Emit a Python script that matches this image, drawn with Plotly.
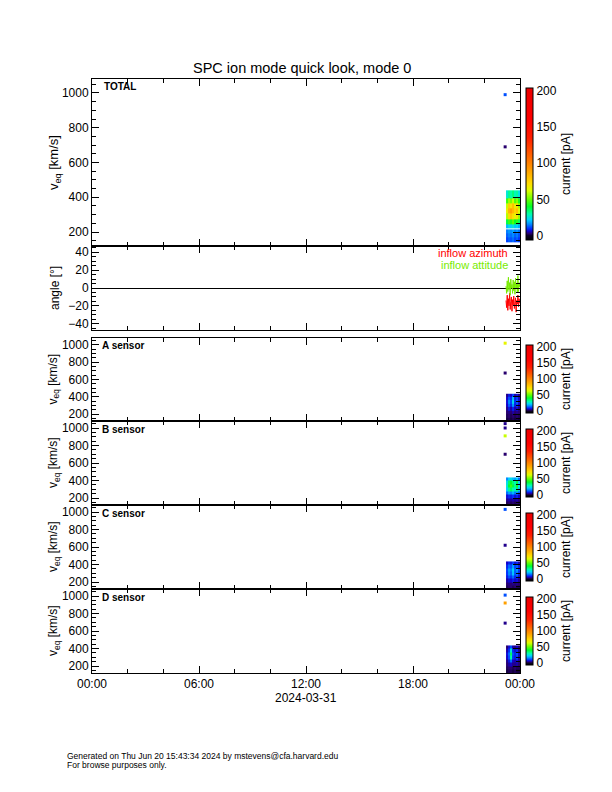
import plotly.graph_objects as go

# ---- data ----
day_range = ["2024-03-31 00:00", "2024-04-01 00:00"]

# time bin edges of the spectrogram columns (end of the day only)
time_edges = ["2024-03-31 23:13", "2024-03-31 23:20", "2024-03-31 23:27",
              "2024-03-31 23:33", "2024-03-31 23:40", "2024-03-31 23:47",
              "2024-03-31 23:53", "2024-04-01 00:00"]

# TOTAL panel: velocity bin edges (km/s) and currents (pA), rows bottom -> top
total_v_edges = [140, 170, 195, 215, 222, 245, 275, 305, 335, 365, 395, 440]
total_current = [
    [11, 13, 12, 14, 11, 13, 10],
    [13, 15, 14, 16, 13, 15, 12],
    [15, 17, 16, 18, 15, 17, 14],
    [None, None, None, None, None, None, None],
    [20, 24, 22, 26, 21, 23, 19],
    [38, 46, 42, 48, 40, 44, 36],
    [58, 72, 78, 70, 64, 70, 55],
    [66, 84, 90, 82, 74, 80, 62],
    [60, 76, 70, 80, 66, 72, 56],
    [46, 56, 52, 60, 48, 54, 42],
    [26, 32, 30, 34, 28, 31, 24],
]

# sensor panels share one velocity grid
sensor_v_edges = [120, 160, 200, 240, 280, 320, 360, 400, 435]
sensor_a = [
    [1, 2, 1, 2, 1, 2, 1],
    [2, 3, 2, 3, 2, 3, 2],
    [3, 4, 3, 5, 3, 4, 3],
    [4, 8, 5, 9, 5, 7, 4],
    [6, 13, 9, 18, 8, 11, 6],
    [7, 16, 11, 24, 9, 13, 7],
    [6, 12, 9, 20, 8, 11, 6],
    [4, 8, 6, 11, 5, 7, 4],
]
sensor_b = [
    [2, 3, 2, 3, 2, 3, 2],
    [4, 5, 4, 5, 4, 5, 3],
    [7, 9, 8, 10, 7, 9, 6],
    [14, 18, 16, 20, 15, 17, 13],
    [22, 32, 36, 30, 26, 34, 20],
    [26, 40, 46, 38, 32, 42, 24],
    [24, 36, 40, 34, 28, 38, 22],
    [16, 22, 24, 20, 18, 22, 14],
]
sensor_c = [
    [2, 3, 3, 2, 3, 2, 2],
    [3, 4, 3, 4, 3, 4, 3],
    [5, 7, 6, 8, 6, 7, 4],
    [8, 12, 10, 14, 9, 11, 7],
    [10, 16, 13, 21, 12, 15, 9],
    [11, 18, 15, 23, 13, 17, 10],
    [9, 14, 12, 18, 11, 13, 8],
    [6, 9, 8, 11, 7, 9, 5],
]
sensor_d = [
    [1, 2, 2, 1, 2, 1, 1],
    [2, 3, 3, 2, 3, 2, 2],
    [3, 5, 6, 4, 4, 5, 3],
    [4, 8, 14, 6, 5, 7, 4],
    [6, 12, 30, 10, 8, 11, 5],
    [7, 14, 36, 12, 9, 12, 6],
    [5, 10, 26, 9, 7, 9, 4],
    [3, 7, 12, 5, 4, 6, 3],
]

# isolated high-speed bins just before the main block
dot_time = "2024-03-31 23:10"
dots_v = {"TOTAL": [990, 690], "A": [1020, 675], "B": [1050, 1000, 910, 700],
          "C": [1030, 620], "D": [1010, 920, 690]}
dots_i = {"TOTAL": [12, 3], "A": [65, 3], "B": [4, 4, 60, 3],
          "C": [12, 4], "D": [12, 90, 4]}

# inflow angles (deg)
angle_times = ["2024-03-31 23:13", "2024-03-31 23:15", "2024-03-31 23:17",
               "2024-03-31 23:19", "2024-03-31 23:21", "2024-03-31 23:23",
               "2024-03-31 23:25", "2024-03-31 23:27", "2024-03-31 23:29",
               "2024-03-31 23:31", "2024-03-31 23:33", "2024-03-31 23:35",
               "2024-03-31 23:37", "2024-03-31 23:39", "2024-03-31 23:41",
               "2024-03-31 23:43", "2024-03-31 23:45", "2024-03-31 23:47",
               "2024-03-31 23:49", "2024-03-31 23:51", "2024-03-31 23:53",
               "2024-03-31 23:55", "2024-03-31 23:57", "2024-03-31 23:59"]
attitude = [2, -6, 8, -4, 12, -2, 6, -8, 10, 0, 4, -6,
            9, -3, 7, -7, 11, -1, 5, -5, 14, -4, 6, 1]
azimuth = [-14, -22, -8, -25, -12, -20, -6, -24, -15, -10, -26, -13,
           -19, -9, -23, -16, -11, -27, -14, -18, -8, -21, -12, -17]

# ---- styling ----
OFF = 8  # the html body adds an 8 px margin, so the figure starts at (8, 8)
W, H = 612 - OFF, 792 - OFF
FONT = "Liberation Sans"
ZMIN, ZMAX = -6, 204

stops = [(-6, "rgb(0,0,0)"), (0, "rgb(10,0,40)"), (3, "rgb(40,0,110)"),
         (6, "rgb(20,0,200)"), (10, "rgb(0,50,255)"), (16, "rgb(0,140,255)"),
         (22, "rgb(0,210,255)"), (30, "rgb(0,255,170)"), (40, "rgb(0,255,40)"),
         (50, "rgb(100,255,0)"), (62, "rgb(220,255,0)"), (72, "rgb(255,220,0)"),
         (90, "rgb(255,160,0)"), (110, "rgb(255,100,0)"), (135, "rgb(255,30,0)"),
         (160, "rgb(255,0,0)"), (204, "rgb(235,0,0)")]
cscale = [[(v - ZMIN) / (ZMAX - ZMIN), c] for v, c in stops]


def px(pix):
    return (pix - OFF) / W


def py(pix):
    return 1 - (pix - OFF) / H


x_dom = [px(92), px(520)]
# pixel top/bottom of each panel (screen coordinates)
panels = [(79, 246), (246, 330), (338, 421), (421, 505), (505, 589), (589, 673)]
cbars = [(88, 240), None, (345, 413), (429, 497), (513, 581), (597, 665)]

fig = go.Figure()


def add_spec(idx, v_edges, z, key):
    cb_top, cb_bot = cbars[idx - 1]
    fig.add_trace(go.Heatmap(
        x=time_edges, y=v_edges, z=z, zmin=ZMIN, zmax=ZMAX,
        colorscale=cscale, xaxis="x%d" % idx, yaxis="y%d" % idx,
        hoverongaps=False,
        colorbar=dict(
            x=px(526), xanchor="left", xpad=0, ypad=0,
            y=py((cb_top + cb_bot) / 2), yanchor="middle",
            len=(cb_bot - cb_top) / H, lenmode="fraction",
            thickness=7, outlinewidth=1, outlinecolor="black",
            tickvals=[0, 50, 100, 150, 200], ticks="",
            tickfont=dict(family=FONT, size=12, color="black"),
            title=dict(text="current [pA]", side="right",
                       font=dict(family=FONT, size=12, color="black")),
        ),
    ))
    fig.add_trace(go.Scatter(
        x=[dot_time] * len(dots_v[key]), y=dots_v[key], mode="markers",
        xaxis="x%d" % idx, yaxis="y%d" % idx,
        marker=dict(symbol="square", size=3, color=dots_i[key],
                    colorscale=cscale, cmin=ZMIN, cmax=ZMAX),
        hoverinfo="skip",
    ))


add_spec(1, total_v_edges, total_current, "TOTAL")
add_spec(3, sensor_v_edges, sensor_a, "A")
add_spec(4, sensor_v_edges, sensor_b, "B")
add_spec(5, sensor_v_edges, sensor_c, "C")
add_spec(6, sensor_v_edges, sensor_d, "D")

fig.add_trace(go.Scatter(x=angle_times, y=azimuth, mode="lines",
                         line=dict(color="rgb(255,0,0)", width=1),
                         xaxis="x2", yaxis="y2"))
fig.add_trace(go.Scatter(x=angle_times, y=attitude, mode="lines",
                         line=dict(color="rgb(120,235,0)", width=1),
                         xaxis="x2", yaxis="y2"))

layout = dict(width=W, height=H,
              margin=dict(l=0, r=0, t=0, b=0, autoexpand=False),
              plot_bgcolor="white", paper_bgcolor="white", showlegend=False)

for i, (top, bot) in enumerate(panels, start=1):
    sfx = "" if i == 1 else str(i)
    layout["xaxis" + sfx] = dict(
        domain=x_dom, anchor="y%d" % i, type="date", range=day_range,
        tick0="2024-03-31", dtick=6 * 3600000, tickformat="%H:%M",
        ticks="inside", ticklen=7, tickcolor="black",
        minor=dict(dtick=2 * 3600000, ticks="inside", ticklen=4, tickcolor="black"),
        showline=True, linecolor="black", linewidth=1, mirror="allticks",
        showgrid=False, zeroline=False, showticklabels=(i == 6),
        automargin=False,
        tickfont=dict(family=FONT, size=12, color="black"),
    )
    ydom = [py(bot), py(top)]
    if i == 2:
        yax = dict(range=[-47, 47], tickvals=[-40, -20, 0, 20, 40],
                   ticktext=["\u221240", "\u221220", "0", "20", "40"],
                   minor=dict(dtick=5, ticks="inside", ticklen=4, tickcolor="black"),
                   zeroline=True, zerolinecolor="black", zerolinewidth=1)
    else:
        yax = dict(range=[120, 1080], tickvals=[200, 400, 600, 800, 1000],
                   minor=dict(tick0=0, dtick=50, ticks="inside", ticklen=4,
                              tickcolor="black"),
                   zeroline=False)
    yax.update(domain=ydom, anchor="x%d" % i, ticks="inside", ticklen=7,
               tickcolor="black", showline=True, linecolor="black", linewidth=1,
               mirror="allticks", showgrid=False, automargin=False,
               tickfont=dict(family=FONT, size=12, color="black"))
    layout["yaxis" + sfx] = yax

fig.update_layout(**layout)

ann = []


def text(x, y, s, size=12, color="black", angle=0, xanchor="center", bold=False):
    ann.append(dict(x=px(x), y=py(y), xref="paper", yref="paper", text=s,
                    showarrow=False, textangle=angle, xanchor=xanchor,
                    yanchor="middle",
                    font=dict(family=FONT, size=size, color=color,
                              weight="bold" if bold else "normal")))


text(302, 68, "SPC ion mode quick look, mode 0", size=14.5)
text(102, 86, "TOTAL", size=10, xanchor="left", bold=True)
for lab, y in [("A sensor", 345), ("B sensor", 429), ("C sensor", 513), ("D sensor", 597)]:
    text(100, y, lab, size=10, xanchor="left", bold=True)
text(54, 163, "v<sub>eq</sub> [km/s]", size=13, angle=-90)
for top, bot in panels[2:]:
    text(54, (top + bot) / 2, "v<sub>eq</sub> [km/s]", size=12, angle=-90)
text(55, 288, "angle [\u00b0]", size=12, angle=-90)
text(510, 253, "inflow azimuth", size=11, color="rgb(255,0,0)", xanchor="right")
text(510, 265, "inflow attitude", size=11, color="rgb(120,235,0)", xanchor="right")
text(306, 698, "2024-03-31", size=12)
text(65, 756, "Generated on Thu Jun 20 15:43:34 2024 by mstevens@cfa.harvard.edu",
     size=8.5, xanchor="left")
text(65, 765, "For browse purposes only.", size=8.5, xanchor="left")
fig.update_layout(annotations=ann)

fig.write_html("out.html")
